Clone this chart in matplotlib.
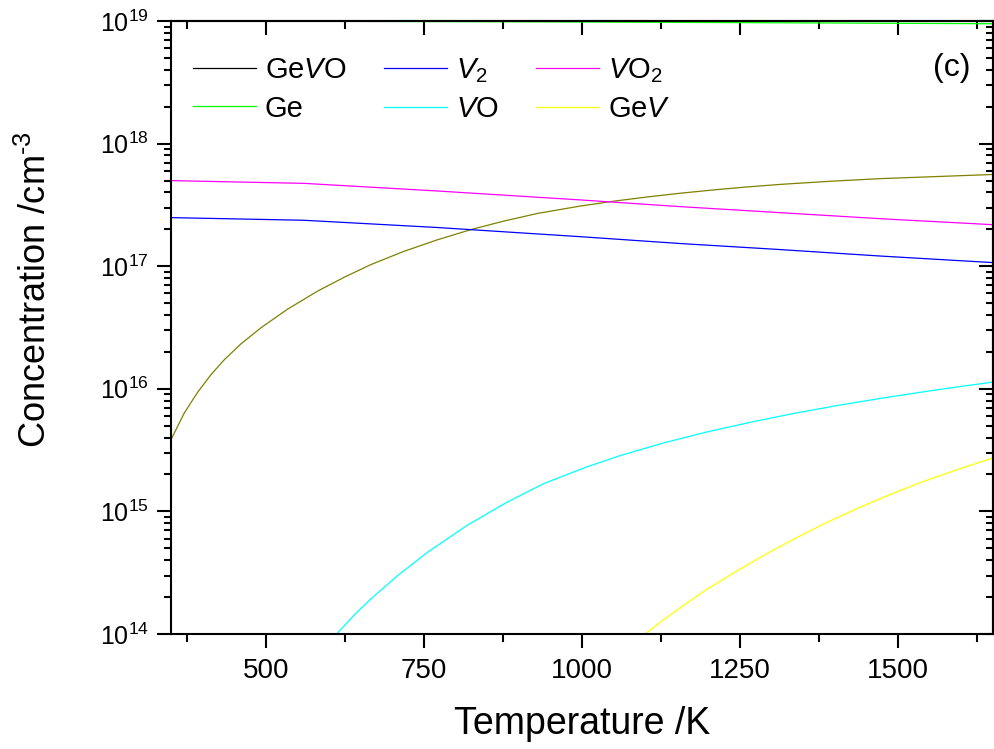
import matplotlib
matplotlib.use("Agg")
import matplotlib.pyplot as plt
from matplotlib.ticker import MultipleLocator, LogLocator, NullFormatter

plt.rcParams['font.family'] = ['Liberation Sans', 'DejaVu Sans']
plt.rcParams['mathtext.fontset'] = 'custom'
plt.rcParams['mathtext.rm'] = 'Liberation Sans'
plt.rcParams['mathtext.it'] = 'Liberation Sans:italic'
plt.rcParams['mathtext.bf'] = 'Liberation Sans:bold'
plt.rcParams['mathtext.default'] = 'regular'

# Defect concentrations vs temperature (cm^-3)
T_gevo = [350, 371, 392, 413, 434, 460, 492, 534, 582, 624, 666, 718, 771, 826, 876,
          929, 998, 1050, 1103, 1156, 1208, 1261, 1314, 1393, 1472, 1650]
c_gevo = [3.85e15, 6.35e15, 9.35e15, 1.30e16, 1.72e16, 2.31e16, 3.14e16, 4.45e16,
          6.27e16, 8.13e16, 1.03e17, 1.32e17, 1.64e17, 2.00e17, 2.33e17, 2.69e17,
          3.10e17, 3.39e17, 3.67e17, 3.94e17, 4.19e17, 4.43e17, 4.65e17, 4.93e17,
          5.18e17, 5.60e17]

T_ge = [350, 870, 1250, 1650]
c_ge = [1.0e19, 9.87e18, 9.7e18, 9.5e18]

T_v2 = [350, 560, 770, 998, 1156, 1310, 1472, 1650]
c_v2 = [2.49e17, 2.37e17, 2.07e17, 1.74e17, 1.53e17, 1.37e17, 1.21e17, 1.07e17]

T_vo = [612, 641, 668, 709, 757, 818, 879, 940, 1008, 1062, 1130, 1198, 1266, 1334,
        1402, 1470, 1538, 1606, 1650]
c_vo = [1.0e14, 1.45e14, 1.97e14, 3.01e14, 4.69e14, 7.67e14, 1.17e15, 1.69e15,
        2.31e15, 2.87e15, 3.63e15, 4.45e15, 5.33e15, 6.28e15, 7.28e15, 8.32e15,
        9.42e15, 1.057e16, 1.135e16]

T_vo2 = [350, 560, 770, 998, 1156, 1310, 1472, 1650]
c_vo2 = [4.99e17, 4.74e17, 4.11e17, 3.47e17, 3.06e17, 2.74e17, 2.44e17, 2.18e17]

T_gev = [1100, 1130, 1164, 1198, 1239, 1286, 1334, 1385, 1436, 1487, 1538, 1596, 1650]
c_gev = [1.0e14, 1.32e14, 1.76e14, 2.32e14, 3.13e14, 4.34e14, 5.90e14, 8.02e14,
         1.06e15, 1.37e15, 1.74e15, 2.21e15, 2.73e15]

fig = plt.figure(figsize=(9.94, 7.49), dpi=100)
ax = fig.add_axes([171/994, 1 - 634/749, (993 - 171)/994, (634 - 21)/749])

lw = 0.9
l_gevo, = ax.plot(T_gevo, c_gevo, color='#808000', lw=lw, label=r'Ge$\mathit{V}$O')
l_ge, = ax.plot(T_ge, c_ge, color='#00ff00', lw=lw, label='Ge')
l_v2, = ax.plot(T_v2, c_v2, color='#0000ff', lw=lw, label=r'$\mathit{V}_2$')
l_vo, = ax.plot(T_vo, c_vo, color='#00ffff', lw=lw, label=r'$\mathit{V}$O')
l_vo2, = ax.plot(T_vo2, c_vo2, color='#ff00ff', lw=lw, label=r'$\mathit{V}$O$_2$')
l_gev, = ax.plot(T_gev, c_gev, color='#ffff00', lw=lw, label=r'Ge$\mathit{V}$')

ax.set_yscale('log')
ax.set_xlim(350, 1650)
ax.set_ylim(1e14, 1e19)

ax.xaxis.set_major_locator(MultipleLocator(250))
ax.xaxis.set_minor_locator(MultipleLocator(125))
ax.yaxis.set_major_locator(LogLocator(base=10, numticks=10))
ax.yaxis.set_minor_locator(LogLocator(base=10, subs=range(2, 10), numticks=20))
ax.yaxis.set_minor_formatter(NullFormatter())

for s in ax.spines.values():
    s.set_linewidth(1.5)

ax.tick_params(axis='x', which='major', direction='out', length=10, width=1.5,
               labelsize=20, pad=7, top=False)
ax.tick_params(axis='x', which='minor', direction='out', length=6, width=1.5, top=False)
ax.tick_params(axis='y', which='major', direction='out', length=10, width=1.5,
               labelsize=18, pad=6, right=False)
ax.tick_params(axis='y', which='minor', direction='out', length=5, width=1.5, right=False)

# inward ticks on the top and right frame edges
top = ax.secondary_xaxis('top')
top.xaxis.set_major_locator(MultipleLocator(250))
top.xaxis.set_minor_locator(MultipleLocator(125))
top.tick_params(which='major', direction='in', length=10, width=1.5, labeltop=False)
top.tick_params(which='minor', direction='in', length=6, width=1.5)
top.xaxis.set_major_formatter(NullFormatter())
top.spines['top'].set_linewidth(1.5)

right = ax.secondary_yaxis('right')
right.yaxis.set_major_locator(LogLocator(base=10, numticks=10))
right.yaxis.set_minor_locator(LogLocator(base=10, subs=range(2, 10), numticks=20))
right.tick_params(which='major', direction='in', length=10, width=1.5, labelright=False)
right.tick_params(which='minor', direction='in', length=5, width=1.5)
right.yaxis.set_major_formatter(NullFormatter())
right.yaxis.set_minor_formatter(NullFormatter())
right.spines['right'].set_linewidth(1.5)

leg = ax.legend(handles=[l_gevo, l_ge, l_v2, l_vo, l_vo2, l_gev], ncol=3, frameon=False,
                fontsize=21, loc='upper left', bbox_to_anchor=(-0.005, 0.985),
                handlelength=2.15, handletextpad=0.3, columnspacing=1.3,
                labelspacing=0.35, borderaxespad=0.5)
leg.legend_handles[0].set_color('black')

ax.text(0.950, 0.924, '(c)', transform=ax.transAxes, fontsize=23,
        ha='center', va='center')

fig.text(582/994, 1 - 734/749, 'Temperature /K', fontsize=27, ha='center', va='baseline')
fig.text(36/994, 1 - 290/749, r'Concentration /cm$^{\text{-}3}$', fontsize=26,
         rotation=90, ha='center', va='center')

fig.savefig('out.png', dpi=100)
